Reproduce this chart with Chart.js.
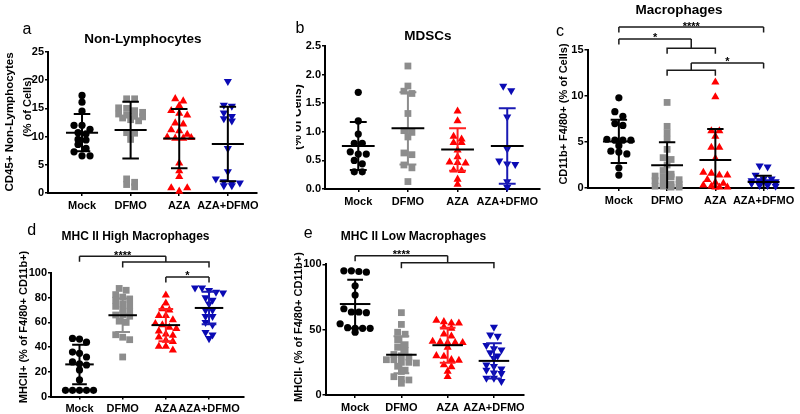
<!DOCTYPE html>
<html><head><meta charset="utf-8">
<script src="https://cdn.jsdelivr.net/npm/chart.js@4.4.0/dist/chart.umd.min.js"></script>
<style>
html,body{margin:0;padding:0;background:#fff;}
#fig{position:relative;width:800px;height:414px;overflow:hidden;background:#fff;}
#fig canvas{position:absolute;}
</style></head><body><div id="fig"></div>
<script>
const categories = ['Mock', 'DFMO', 'AZA', 'AZA+DFMO'];

// Panel a: CD45+ Non-Lymphocytes (% of Cells)
const aMock = [17.3, 16.1, 14.5, 12.0, 12.0, 11.3, 10.7, 10.5, 9.5, 9.4, 8.6, 7.9, 7.3, 6.6, 6.6];
const aDFMO = [16.7, 16.7, 15.1, 15.0, 14.6, 14.3, 14.0, 13.8, 13.6, 13.5, 13.3, 13.0, 12.8, 10.7, 10.6, 9.5, 2.5, 1.9, 1.5, 1.1];
const aAZA = [16.7, 16.3, 15.5, 14.6, 14.1, 13.8, 12.4, 12.2, 11.2, 11.0, 10.4, 9.9, 9.7, 9.7, 9.8, 5.3, 3.9, 2.9, 0.9, 0.3, 0.9];
const aAZADFMO = [19.8, 15.6, 15.4, 14.2, 13.6, 13.2, 12.8, 7.9, 3.8, 2.5, 2.0, 1.8, 1.8, 1.3, 1.3];
const aMean = [10.7, 11.15, 9.65, 8.7];
const aSD = [3.3, 5.05, 5.25, 6.6];

// Panel b: MDSCs (% of Cells)
const bMock = [1.69, 1.19, 0.96, 0.80, 0.80, 0.65, 0.61, 0.61, 0.50, 0.44, 0.30, 0.30];
const bDFMO = [2.15, 1.80, 1.71, 1.67, 1.32, 1.02, 0.99, 0.91, 0.63, 0.60, 0.42, 0.37, 0.13];
const bAZA = [1.36, 1.19, 0.92, 0.87, 0.81, 0.81, 0.68, 0.56, 0.47, 0.46, 0.45, 0.33, 0.32, 0.17, 0.08];
const bAZADFMO = [1.80, 1.72, 1.26, 0.70, 0.49, 0.44, 0.43, 0.13, 0.03];
const bMean = [0.75, 1.06, 0.69, 0.75];
const bSD = [0.42, 0.63, 0.37, 0.66];

// Panel c: CD11b+ F4/80+ (% of Cells)
const cMock = [9.8, 8.3, 7.8, 7.0, 6.8, 5.3, 5.2, 5.2, 5.2, 4.6, 4.0, 3.9, 3.7, 2.2, 1.4];
const cDFMO = [9.3, 6.7, 6.0, 5.3, 4.2, 3.3, 3.1, 2.5, 1.9, 1.5, 1.3, 1.2, 1.2, 0.9, 0.8, 0.5, 0.4, 0.4, 0.2, 0.2, 0.1, 0.1];
const cAZA = [11.5, 9.9, 6.2, 6.2, 5.6, 4.4, 4.4, 3.2, 1.7, 1.6, 1.4, 1.4, 0.9, 0.6, 0.5, 0.3, 0.2, 0.1, 0.1, 0.1];
const cAZADFMO = [2.4, 2.3, 1.4, 1.0, 1.0, 0.8, 0.8, 0.7, 0.7, 0.6, 0.6, 0.6, 0.5, 0.5, 0.3, 0.3, 0.2];
const cMean = [5.06, 2.46, 3.04, 0.65];
const cSD = [2.35, 2.5, 3.36, 0.69];

// Panel d: MHCII+ (% of F4/80+ CD11b+)
const dMock = [47, 46.5, 44, 36, 35, 32, 28, 26.5, 25.5, 21.5, 13.4, 5, 5, 5, 5, 5];
const dDFMO = [87.5, 86, 82.5, 80.5, 79, 78, 75, 74, 73, 70, 69, 66, 66, 65, 61, 60, 50, 48, 46, 32];
const dAZA = [82, 75.5, 71, 70, 65.5, 65.5, 62, 59, 58, 56, 55, 53, 50.5, 49.5, 48, 45.5, 44.5, 40.5, 40.5, 37.5];
const dAZADFMO = [88, 88, 86, 84.5, 84, 80, 78, 75, 70, 70, 65, 65, 60, 58, 52, 50, 47];
const dMean = [26, 65.8, 57.8, 71.7];
const dSD = [16, 13.6, 13.1, 13.2];

// Panel e: MHCII- (% of F4/80+ CD11b+)
const eMock = [95, 95, 94.5, 94, 83.5, 76.5, 66, 63.5, 63.5, 63, 54.5, 51.5, 51, 51, 51, 48];
const eDFMO = [63, 54, 48, 46.5, 42, 38.5, 36.5, 34, 31, 30, 29, 27, 27, 25, 25, 24.5, 22, 19, 18, 14, 12, 11.5, 9];
const eAZA = [57, 56, 55, 55, 52, 51, 46.5, 45, 41, 40.5, 40, 40, 40, 36.5, 30, 29.5, 27, 26.5, 23, 21.5, 18, 14];
const eAZADFMO = [52, 46, 45, 38, 35.5, 34.5, 32.5, 30, 28, 23, 22, 20, 19, 17, 16.5, 13, 13, 10.5];
const eMean = [69.6, 30.8, 38.1, 26.1];
const eSD = [18.5, 14.1, 13.4, 13.4];

// Significance brackets (category indices, heights in data units)
const cBrackets = [
  { from: 0, to: 3, y: 17.5, label: '****' },
  { from: 0, to: [1, 2], y: 16.2, sub: 15.2, label: '*' },
  { from: [1, 2], to: 3, y: 13.6, sub: 12.8, label: '*' }
];
const dBrackets = [
  { from: 0, to: [1, 3], y: 113.5, sub: 108.9, label: '****' },
  { from: 2, to: 3, y: 96.8, label: '*' }
];
const eBrackets = [
  { from: 0, to: [1, 3], y: 106.6, sub: 101.2, label: '****' }
];

const FONT = '"Liberation Sans", Arial, Helvetica, sans-serif';
Chart.defaults.font.family = FONT;
const GROUP_COLORS = ['#000000', '#8d8d8d', '#ff0000', '#0a0ab4'];
const GROUP_STYLES = [
  { pointStyle: 'circle', radius: 3.6, rotation: 0 },
  { pointStyle: 'rect', radius: 4.8, rotation: 0 },
  { pointStyle: 'triangle', radius: 4.7, rotation: 0 },
  { pointStyle: 'triangle', radius: 4.7, rotation: 180 }
];

const panels = [
  { id: 'a', box: { x: 0, y: 0, w: 270, h: 214 }, plot: { l: 48, t: 52, r: 257, b: 193 },
    xRange: [-0.70, 3.60], yMax: 25, yStep: 5, dec: 0,
    groups: [aMock, aDFMO, aAZA, aAZADFMO], mean: aMean, sd: aSD,
    barColors: ['#000', '#000', '#000', '#000'], brackets: [], spacing: 8, maxRow: 4,
    letter: { t: 'a', x: 27, y: 30 }, title: { t: 'Non-Lymphocytes', x: 143, y: 39, size: 13.5 },
    ytitle: [{ t: 'CD45+ Non-Lymphocytes', x: 10, y: 122, size: 11.5 }, { t: '(% of Cells)', x: 28, y: 107, size: 11 }] },
  { id: 'b', box: { x: 296, y: 0, w: 250, h: 214 }, plot: { l: 325, t: 46, r: 540, b: 189 },
    xRange: [-0.67, 3.66], yMax: 2.5, yStep: 0.5, dec: 1,
    groups: [bMock, bDFMO, bAZA, bAZADFMO], mean: bMean, sd: bSD,
    barColors: ['#000', '#8d8d8d', '#ff2020', '#1a1ab4'], brackets: [], spacing: 8, maxRow: 4,
    letter: { t: 'b', x: 300, y: 29 }, title: { t: 'MDSCs', x: 428, y: 36, size: 13.5 },
    ytitle: [{ t: '(% of Cells)', x: 297.8, y: 117, size: 12 }] },
  { id: 'c', box: { x: 545, y: 0, w: 255, h: 214 }, plot: { l: 587.5, t: 50, r: 794, b: 188 },
    xRange: [-0.65, 3.63], yMax: 15, yStep: 5, dec: 0,
    groups: [cMock, cDFMO, cAZA, cAZADFMO], mean: cMean, sd: cSD,
    barColors: ['#000', '#000', '#000', '#000'], brackets: cBrackets, spacing: 8, maxRow: 4,
    letter: { t: 'c', x: 560, y: 32 }, title: { t: 'Macrophages', x: 679, y: 10, size: 13.5 },
    ytitle: [{ t: 'CD11b+ F4/80+ (% of Cells)', x: 563.5, y: 114, size: 11 }] },
  { id: 'd', box: { x: 0, y: 214, w: 282, h: 200 }, plot: { l: 51, t: 273, r: 244, b: 396.5 },
    xRange: [-0.66, 3.81], yMax: 100, yStep: 20, dec: 0,
    groups: [dMock, dDFMO, dAZA, dAZADFMO], mean: dMean, sd: dSD,
    barColors: ['#000', '#8d8d8d', '#ff2020', '#1a1ab4'], brackets: dBrackets, spacing: 7, maxRow: 5,
    letter: { t: 'd', x: 31.7, y: 230.7 }, title: { t: 'MHC II High Macrophages', x: 135.5, y: 236.5, size: 12 },
    ytitle: [{ t: 'MHCII+ (% of F4/80+ CD11b+)', x: 24, y: 327, size: 11 }] },
  { id: 'e', box: { x: 285, y: 214, w: 260, h: 200 }, plot: { l: 325.5, t: 264.3, r: 524, b: 395 },
    xRange: [-0.64, 3.65], yMax: 100, yStep: 50, dec: 0,
    groups: [eMock, eDFMO, eAZA, eAZADFMO], mean: eMean, sd: eSD,
    barColors: ['#000', '#8d8d8d', '#ff2020', '#1a1ab4'], brackets: eBrackets, spacing: 7.5, maxRow: 5,
    letter: { t: 'e', x: 308.3, y: 234 }, title: { t: 'MHC II Low Macrophages', x: 413.5, y: 237, size: 12 },
    ytitle: [{ t: 'MHCII- (% of F4/80+ CD11b+)', x: 299, y: 327, size: 11 }] }
];

// Row-based dot arrangement (horizontal spreading of close values), offsets in px
function swarm(values, pxPerUnit, spacing, rowPx, maxRow) {
  const idx = values.map((v, i) => i).sort((a, b) => values[b] - values[a]);
  const off = new Array(values.length).fill(0);
  let row = [];
  const flush = () => {
    const n = row.length;
    const order = row.slice().sort((a, b) => a - b);
    order.forEach((i, k) => { off[i] = (k - (n - 1) / 2) * spacing; });
    row = [];
  };
  for (const i of idx) {
    if (row.length && ((values[row[0]] - values[i]) * pxPerUnit > rowPx || row.length >= maxRow)) flush();
    row.push(i);
  }
  flush();
  return off;
}

function decoPlugin(p) {
  const ox = p.box.x, oy = p.box.y;
  return {
    id: 'deco_' + p.id,
    afterDatasetsDraw(chart) {
      const ctx = chart.ctx, xs = chart.scales.x, ys = chart.scales.y;
      const cat = xs.getPixelForValue(1) - xs.getPixelForValue(0);
      ctx.save();
      ctx.lineCap = 'butt';
      p.mean.forEach((m, i) => {
        const x = xs.getPixelForValue(i);
        const hiV = m + p.sd[i], loV = m - p.sd[i];
        const hi = ys.getPixelForValue(hiV);
        const lo = ys.getPixelForValue(Math.max(loV, ys.min));
        const cw = cat * 0.17, mw = cat * 0.33;
        ctx.strokeStyle = p.barColors[i];
        ctx.lineWidth = 2;
        ctx.beginPath();
        ctx.moveTo(x, hi); ctx.lineTo(x, lo);
        ctx.moveTo(x - cw, hi); ctx.lineTo(x + cw, hi);
        if (loV >= ys.min) { ctx.moveTo(x - cw, lo); ctx.lineTo(x + cw, lo); }
        ctx.stroke();
        const ym = ys.getPixelForValue(m);
        ctx.strokeStyle = '#000';
        ctx.beginPath(); ctx.moveTo(x - mw, ym); ctx.lineTo(x + mw, ym); ctx.stroke();
      });
      ctx.restore();
    },
    afterDraw(chart) {
      const ctx = chart.ctx, xs = chart.scales.x, ys = chart.scales.y;
      ctx.save();
      ctx.strokeStyle = '#1a1a1a'; ctx.lineWidth = 1.5; ctx.fillStyle = '#000';
      ctx.font = 'bold 11px ' + FONT; ctx.textAlign = 'center'; ctx.textBaseline = 'alphabetic';
      const drop = 5.5;
      p.brackets.forEach(br => {
        const yTop = ys.getPixelForValue(br.y);
        const ySub = br.sub !== undefined ? ys.getPixelForValue(br.sub) : null;
        ctx.beginPath();
        const end = side => {
          if (Array.isArray(side)) {
            const xa = xs.getPixelForValue(side[0]), xb = xs.getPixelForValue(side[1]);
            const xm = (xa + xb) / 2;
            ctx.moveTo(xm, yTop); ctx.lineTo(xm, ySub);
            ctx.moveTo(xa, ySub + drop); ctx.lineTo(xa, ySub); ctx.lineTo(xb, ySub); ctx.lineTo(xb, ySub + drop);
            return xm;
          }
          const x = xs.getPixelForValue(side);
          ctx.moveTo(x, yTop); ctx.lineTo(x, yTop + drop);
          return x;
        };
        const x1 = end(br.from), x2 = end(br.to);
        ctx.moveTo(x1, yTop); ctx.lineTo(x2, yTop);
        ctx.stroke();
        ctx.fillText(br.label, (x1 + x2) / 2, yTop + 2.5);
      });
      ctx.textBaseline = 'middle'; ctx.textAlign = 'center';
      ctx.font = '16px ' + FONT;
      ctx.fillText(p.letter.t, p.letter.x - ox, p.letter.y - oy);
      ctx.font = 'bold ' + p.title.size + 'px ' + FONT;
      ctx.fillText(p.title.t, p.title.x - ox, p.title.y - oy);
      p.ytitle.forEach(t => {
        ctx.save();
        ctx.font = 'bold ' + t.size + 'px ' + FONT;
        ctx.translate(t.x - ox, t.y - oy);
        ctx.rotate(-Math.PI / 2);
        ctx.fillText(t.t, 0, 0);
        ctx.restore();
      });
      ctx.restore();
    }
  };
}

const fig = document.getElementById('fig');
panels.forEach(p => {
  const cv = document.createElement('canvas');
  cv.width = p.box.w; cv.height = p.box.h;
  cv.style.left = p.box.x + 'px'; cv.style.top = p.box.y + 'px';
  cv.style.width = p.box.w + 'px'; cv.style.height = p.box.h + 'px';
  fig.appendChild(cv);

  const plotW = p.plot.r - p.plot.l, plotH = p.plot.b - p.plot.t;
  const pxPerCat = plotW / (p.xRange[1] - p.xRange[0]);
  const pxPerUnit = plotH / p.yMax;
  const yAxisW = p.plot.l - p.box.x;
  const xAxisH = p.box.y + p.box.h - p.plot.b;

  const datasets = p.groups.map((vals, gi) => {
    const off = swarm(vals, pxPerUnit, p.spacing, 5, p.maxRow);
    return {
      label: categories[gi],
      data: vals.map((v, i) => ({ x: gi + off[i] / pxPerCat, y: v })),
      pointStyle: GROUP_STYLES[gi].pointStyle,
      pointRadius: GROUP_STYLES[gi].radius,
      pointRotation: GROUP_STYLES[gi].rotation,
      backgroundColor: GROUP_COLORS[gi],
      borderColor: GROUP_COLORS[gi],
      borderWidth: 0,
      showLine: false,
      clip: false
    };
  });

  new Chart(cv, {
    type: 'scatter',
    data: { datasets },
    options: {
      responsive: false, animation: false, devicePixelRatio: 1,
      events: [],
      layout: { padding: { left: 0, top: p.plot.t - p.box.y, right: p.box.x + p.box.w - p.plot.r, bottom: 0 } },
      plugins: { legend: { display: false }, tooltip: { enabled: false }, title: { display: false } },
      scales: {
        x: {
          type: 'linear', min: p.xRange[0], max: p.xRange[1],
          afterBuildTicks: s => { s.ticks = categories.map((c, i) => ({ value: i })); },
          afterFit: s => { s.height = xAxisH; s.paddingLeft = 0; s.paddingRight = 0; },
          ticks: { callback: v => categories[v], color: '#000', font: { size: 11, weight: 'bold' }, padding: 3, maxRotation: 0, autoSkip: false },
          grid: { display: true, drawOnChartArea: false, drawTicks: true, tickLength: 3, color: '#000', lineWidth: 1.5 },
          border: { display: true, color: '#000', width: 2 }
        },
        y: {
          type: 'linear', min: 0, max: p.yMax,
          afterFit: s => { s.width = yAxisW; s.paddingTop = 0; s.paddingBottom = 0; },
          ticks: { stepSize: p.yStep, callback: v => Number(v).toFixed(p.dec), color: '#000', font: { size: 11, weight: 'bold' }, padding: 1 },
          grid: { display: true, drawOnChartArea: false, drawTicks: true, tickLength: 3, color: '#000', lineWidth: 1.5 },
          border: { display: true, color: '#000', width: 2 }
        }
      }
    },
    plugins: [decoPlugin(p)]
  });
});
</script>
</body></html>
